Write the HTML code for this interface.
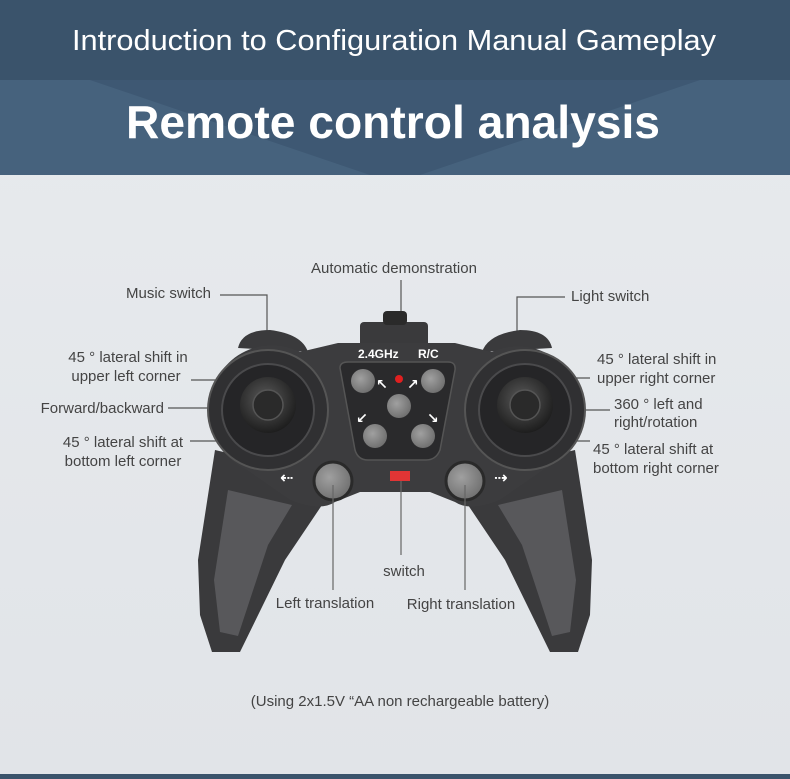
<!DOCTYPE html>
<html><head><meta charset="utf-8"><style>
html,body{margin:0;padding:0;width:790px;height:779px;overflow:hidden;background:#e5e8eb}
svg{display:block}
text{font-family:"Liberation Sans","DejaVu Sans",sans-serif}
</style></head><body>
<svg width="790" height="779" viewBox="0 0 790 779">
<defs>
<linearGradient id="bg" x1="0" y1="0" x2="0" y2="1"><stop offset="0" stop-color="#e8ebee"/><stop offset="1" stop-color="#e1e4e8"/></linearGradient>
<radialGradient id="btn" cx="0.4" cy="0.4" r="0.7"><stop offset="0" stop-color="#a0a0a0"/><stop offset="1" stop-color="#6a6a6a"/></radialGradient>
<radialGradient id="stk" cx="0.45" cy="0.4" r="0.6"><stop offset="0" stop-color="#5a5a5a"/><stop offset="1" stop-color="#1e1e1e"/></radialGradient>
</defs>
<rect x="0" y="0" width="790" height="779" fill="url(#bg)"/>
<rect x="0" y="0" width="790" height="80" fill="#3a536b"/>
<rect x="0" y="80" width="790" height="95" fill="#46627d"/>
<polygon points="90,80 700,80 420,175 370,175" fill="#3e5873"/>
<text x="394" y="50" text-anchor="middle" font-size="29" fill="#fff" textLength="644" lengthAdjust="spacingAndGlyphs">Introduction to Configuration Manual Gameplay</text>
<text x="393" y="138" text-anchor="middle" font-size="46" font-weight="bold" fill="#fff" textLength="534" lengthAdjust="spacingAndGlyphs">Remote control analysis</text>
<rect x="0" y="774" width="790" height="5" fill="#3a536b"/>

<g stroke="#555" stroke-width="1.2" fill="none">
<polyline points="220,295 267,295 267,335"/>
<line x1="401" y1="280" x2="401" y2="320"/>
<polyline points="565,297 517,297 517,340"/>
<line x1="191" y1="380" x2="240" y2="380"/>
<line x1="168" y1="408" x2="275" y2="408"/>
<line x1="190" y1="441" x2="240" y2="441"/>
<line x1="560" y1="378" x2="590" y2="378"/>
<line x1="545" y1="410" x2="610" y2="410"/>
<line x1="560" y1="441" x2="590" y2="441"/>
</g>

<path d="M215,450 L198,560 L200,615 L212,652 L240,652 L285,560 L322,505 L300,470 Z" fill="#3a3a3c"/>
<path d="M575,450 L592,560 L590,615 L578,652 L550,652 L505,560 L468,505 L490,470 Z" fill="#3a3a3c"/>
<path d="M228,490 L214,580 L220,632 L238,636 L268,545 L292,505 Z" fill="#58585b"/>
<path d="M562,490 L576,580 L570,632 L552,636 L522,545 L498,505 Z" fill="#58585b"/>
<path d="M238,348 Q242,330 270,330 Q302,334 308,352 Z" fill="#3a3a3c"/>
<path d="M482,352 Q488,334 520,330 Q548,330 552,348 Z" fill="#3a3a3c"/>
<rect x="360" y="322" width="68" height="30" rx="4" fill="#3a3a3c"/>
<rect x="383" y="311" width="24" height="14" rx="4" fill="#2a2a2a"/>
<path d="M210,410 A62,62 0 0 1 300,352 L338,343 L455,343 L492,352 A62,62 0 0 1 580,410 A62,62 0 0 1 543,470 L500,500 Q470,512 455,502 L430,492 L360,492 L335,502 Q320,512 290,500 L247,470 A62,62 0 0 1 210,410 Z" fill="#3c3c3e"/>
<circle cx="268" cy="410" r="60" fill="#303032" stroke="#555" stroke-width="2"/>
<circle cx="268" cy="410" r="46" fill="#252527" stroke="#4a4a4c" stroke-width="2"/>
<circle cx="268" cy="405" r="28" fill="url(#stk)"/>
<circle cx="268" cy="405" r="15" fill="#2a2a2a" stroke="#555" stroke-width="1.5"/>
<circle cx="525" cy="410" r="60" fill="#303032" stroke="#555" stroke-width="2"/>
<circle cx="525" cy="410" r="46" fill="#252527" stroke="#4a4a4c" stroke-width="2"/>
<circle cx="525" cy="405" r="28" fill="url(#stk)"/>
<circle cx="525" cy="405" r="15" fill="#2a2a2a" stroke="#555" stroke-width="1.5"/>
<path d="M340,368 Q340,362 348,362 L448,362 Q456,362 455,370 L440,450 Q436,460 426,460 L368,460 Q358,460 355,450 Z" fill="#2a2a2c" stroke="#555" stroke-width="1.5"/>
<text x="358" y="358" font-size="12" font-weight="bold" fill="#fff">2.4GHz</text>
<text x="418" y="358" font-size="12" font-weight="bold" fill="#fff">R/C</text>
<circle cx="363" cy="381" r="12" fill="url(#btn)"/>
<circle cx="433" cy="381" r="12" fill="url(#btn)"/>
<circle cx="399" cy="406" r="12" fill="url(#btn)"/>
<circle cx="375" cy="436" r="12" fill="url(#btn)"/>
<circle cx="423" cy="436" r="12" fill="url(#btn)"/>
<circle cx="399" cy="379" r="4" fill="#e02020"/>
<g fill="#fff" font-size="14" font-weight="bold">
<text x="376" y="389">↖</text><text x="407" y="389">↗</text>
<text x="356" y="423">↙</text><text x="427" y="423">↘</text>
</g>
<circle cx="333" cy="481" r="19" fill="url(#btn)" stroke="#2a2a2a" stroke-width="3"/>
<circle cx="465" cy="481" r="19" fill="url(#btn)" stroke="#2a2a2a" stroke-width="3"/>
<text x="280" y="483" font-size="16" font-weight="bold" fill="#fff">⇠</text>
<text x="494" y="483" font-size="16" font-weight="bold" fill="#fff">⇢</text>
<rect x="390" y="471" width="20" height="10" fill="#e03535"/>

<g stroke="#666" stroke-width="1.2">
<line x1="401" y1="481" x2="401" y2="555"/>
<line x1="333" y1="485" x2="333" y2="590"/>
<line x1="465" y1="485" x2="465" y2="590"/>
</g>

<g font-size="15" fill="#444">
<text x="394" y="273" text-anchor="middle">Automatic demonstration</text>
<text x="211" y="298" text-anchor="end">Music switch</text>
<text x="571" y="301">Light switch</text>
<text x="128" y="362" text-anchor="middle">45 ° lateral shift in</text>
<text x="126" y="381" text-anchor="middle">upper left corner</text>
<text x="164" y="413" text-anchor="end">Forward/backward</text>
<text x="123" y="447" text-anchor="middle">45 ° lateral shift at</text>
<text x="123" y="466" text-anchor="middle">bottom left corner</text>
<text x="597" y="364">45 ° lateral shift in</text>
<text x="597" y="383">upper right corner</text>
<text x="614" y="409">360 ° left and</text>
<text x="614" y="427">right/rotation</text>
<text x="593" y="454">45 ° lateral shift at</text>
<text x="593" y="473">bottom right corner</text>
<text x="404" y="576" text-anchor="middle">switch</text>
<text x="325" y="608" text-anchor="middle">Left translation</text>
<text x="461" y="609" text-anchor="middle">Right translation</text>
<text x="400" y="706" text-anchor="middle">(Using 2x1.5V “AA non rechargeable battery)</text>
</g>
</svg>
</body></html>
